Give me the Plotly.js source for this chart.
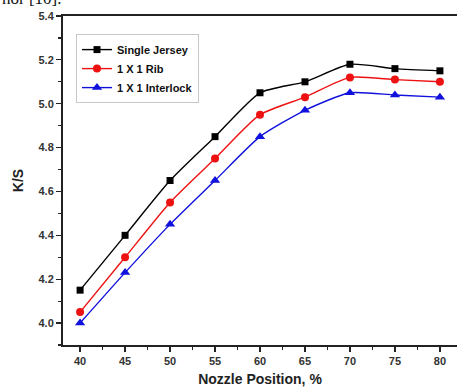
<!DOCTYPE html>
<html>
<head>
<meta charset="utf-8">
<script src="https://cdn.plot.ly/plotly-3.0.1.min.js"></script>
<style>html,body{margin:0;padding:0;background:#fff;}#chart{width:457px;height:392px;}</style>
</head>
<body>
<div id="chart"></div>
<script>
const nozzle = [40, 45, 50, 55, 60, 65, 70, 75, 80];
const singleJersey = [4.15, 4.40, 4.65, 4.85, 5.05, 5.10, 5.18, 5.16, 5.15];
const rib = [4.05, 4.30, 4.55, 4.75, 4.95, 5.03, 5.12, 5.11, 5.10];
const interlock = [4.00, 4.23, 4.45, 4.65, 4.85, 4.97, 5.05, 5.04, 5.03];
const seriesNames = ["Single Jersey", "1 X 1 Rib", "1 X 1 Interlock"];

const font = "Liberation Sans, Arial, sans-serif";
function tr(y, name, color, symbol, size) {
  return {x: nozzle, y: y, name: name, type: 'scatter', mode: 'lines+markers',
    line: {color: color, width: 1.4, shape: 'spline', smoothing: 0.6},
    marker: {color: color, symbol: symbol, size: size}};
}
const data = [
  tr(singleJersey, seriesNames[0], '#000000', 'square', 7),
  tr(rib, seriesNames[1], '#ee1111', 'circle', 8),
  tr(interlock, seriesNames[2], '#1111dd', 'triangle-up', 9)
];
const layout = {
  width: 457, height: 392,
  margin: {l: 63, r: 0, t: 16, b: 47},
  paper_bgcolor: '#fff', plot_bgcolor: '#fff',
  showlegend: true,
  legend: {x: 0.033, y: 0.945, xanchor: 'left', yanchor: 'top',
    bordercolor: '#c8c8c8', borderwidth: 1, bgcolor: '#fff',
    font: {family: font, size: 11, color: '#111', weight: 'bold'},
    tracegroupgap: 0, itemwidth: 30},
  xaxis: {range: [38.1, 81.9], tickvals: nozzle, ticks: 'outside', ticklen: 5, tickwidth: 1.2,
    tickcolor: '#222', showline: true, linecolor: '#222', linewidth: 2, mirror: true,
    showgrid: false, zeroline: false,
    minor: {dtick: 2.5, ticks: 'outside', ticklen: 3, tickcolor: '#222', showgrid: false},
    tickfont: {family: font, size: 11, color: '#333', weight: 'bold'},
    title: {text: 'Nozzle Position, %', font: {family: font, size: 14, color: '#222', weight: 'bold'}, standoff: 8}},
  yaxis: {range: [3.9, 5.4], tickvals: [4.0, 4.2, 4.4, 4.6, 4.8, 5.0, 5.2, 5.4],
    ticktext: ['4.0', '4.2', '4.4', '4.6', '4.8', '5.0', '5.2', '5.4'],
    ticks: 'outside', ticklen: 5, tickwidth: 1.2, tickcolor: '#222',
    showline: true, linecolor: '#222', linewidth: 2, mirror: false,
    showgrid: false, zeroline: false,
    minor: {dtick: 0.1, ticks: 'outside', ticklen: 3, tickcolor: '#222', showgrid: false},
    tickfont: {family: font, size: 11, color: '#333', weight: 'bold'},
    title: {text: 'K/S', font: {family: font, size: 14, color: '#222', weight: 'bold'}, standoff: 12}},
  annotations: [{text: 'hor [10].', xref: 'paper', yref: 'paper', x: -0.16, y: 1.0, xanchor: 'left', yanchor: 'bottom',
    yshift: 6, showarrow: false, font: {family: 'Liberation Serif, Times New Roman, serif', size: 17, color: '#111'}}]
};
Plotly.newPlot('chart', data, layout, {displayModeBar: false, staticPlot: true});
</script>
</body>
</html>
